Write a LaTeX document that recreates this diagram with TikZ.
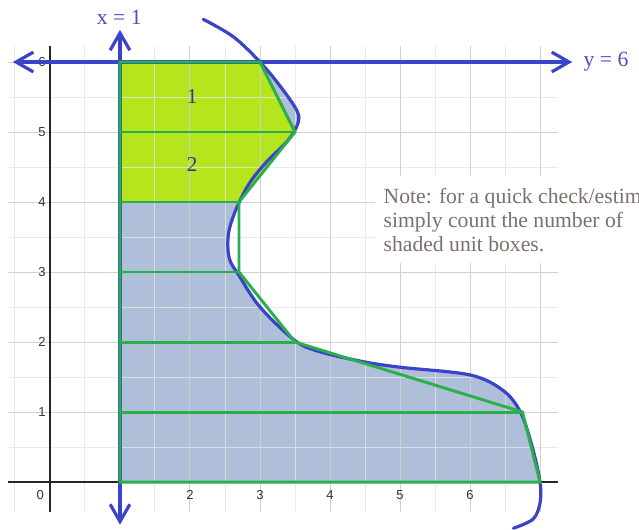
\documentclass[tikz,border=0pt]{standalone}
\usepackage{fontspec}
\setmainfont{Liberation Serif}
\newfontfamily\tickfont{Liberation Sans}
\usepackage{tikz}
\usetikzlibrary{arrows.meta}
\definecolor{cblue}{HTML}{3B44C8}
\definecolor{clabel}{HTML}{4B4FC6}
\definecolor{cgreen}{HTML}{2AB04A}
\definecolor{clime}{HTML}{B5E61D}
\definecolor{cshade}{HTML}{AFBFDA}
\definecolor{cnote}{HTML}{7A716B}

\begin{document}
\begin{tikzpicture}[
    minorgrid/.style={draw=black!10, opacity=0.8, line width=0.4pt},
    majorgrid/.style={draw=black!20, opacity=0.8, line width=0.4pt},
    bline/.style={cblue, line width=1.3pt, line cap=round},
    barbs/.style={{Straight Barb[length=7pt,width=8pt]}-{Straight Barb[length=7pt,width=8pt]}},
    gline/.style={cgreen, line width=1.2pt},
    ticklbl/.style={font=\tickfont\fontsize{5.3}{6}\selectfont, text=black!80, inner sep=1pt},
    eqlbl/.style={font=\fontsize{8.8}{10}\selectfont, text=clabel},
    boxlbl/.style={font=\fontsize{8.6}{10}\selectfont, text=cblue!80!black},
    note/.style={font=\fontsize{8.8}{9.8}\selectfont, text=cnote, align=left, inner sep=0pt}
]
    \useasboundingbox (-0.714,-0.671) rectangle (8.414,6.886);

    % shaded area between x = 1 and the curve
    \begin{scope}
        \clip (1,0) rectangle (8,6);
        \fill[cshade] plot[smooth, tension=0.55] coordinates {
            (2.19,6.61) (2.62,6.36) (3.0,6.0) (3.3,5.64) (3.53,5.3) (3.54,5.12)
            (3.4,4.88) (3.1,4.58) (2.85,4.27) (2.66,3.9) (2.55,3.55) (2.56,3.2)
            (2.7,2.95) (3.0,2.5) (3.5,2.02) (3.86,1.86) (4.47,1.72) (5.0,1.64)
            (6.0,1.53) (6.47,1.31) (6.72,1.0) (6.89,0.5) (7.0,0.0) (7.0,-0.3)
            (6.9,-0.53) (6.62,-0.66)}
            -- (1,-0.7) -- (1,6.7) -- cycle;
    \end{scope}
    \fill[clime] (1,4) -- (2.7,4) -- (3.5,5) -- (3,6) -- (1,6) -- cycle;

    % grid and axes
    \draw[minorgrid, step=0.5] (-0.6,-0.43) grid (7.25,6.23);
    \draw[majorgrid, step=1] (-0.6,-0.43) grid (7.25,6.23);
    \draw[black!85, line width=0.45pt] (-0.6,0) -- (7.25,0);
    \draw[black!85, line width=0.45pt] (0,-0.43) -- (0,6.23);

    \foreach \v in {1,...,6}
        \node[ticklbl, anchor=east] (ty\v) at (-0.02,\v) {\v};
    \foreach \u in {2,...,6}
        \node[ticklbl] (tx\u) at (\u,-0.19) {\u};
    \node[ticklbl] (t0) at (-0.14,-0.19) {0};

    % note
    \fill[white] (4.64,3.13) rectangle (8.5,4.37);
    \node[note, anchor=base west] (note) at (4.76,3.29)
        {Note: for a quick check/estim\\simply count the number of\\shaded unit boxes.};

    % curve
    \draw[bline] plot[smooth, tension=0.55] coordinates {
        (2.19,6.61) (2.62,6.36) (3.0,6.0) (3.3,5.64) (3.53,5.3) (3.54,5.12)
        (3.4,4.88) (3.1,4.58) (2.85,4.27) (2.66,3.9) (2.55,3.55) (2.56,3.2)
        (2.7,2.95) (3.0,2.5) (3.5,2.02) (3.86,1.86) (4.47,1.72) (5.0,1.64)
        (6.0,1.53) (6.47,1.31) (6.72,1.0) (6.89,0.5) (7.0,0.0) (7.0,-0.3)
        (6.9,-0.53) (6.62,-0.66)};

    % x = 1 and y = 6
    \coordinate (xtop) at (1,6.46);
    \coordinate (xbot) at (1,-0.61);
    \coordinate (yleft) at (-0.53,6);
    \coordinate (yright) at (7.46,6);
    \draw[bline, barbs] (xbot) -- (xtop);
    \draw[bline, barbs] (yleft) -- (yright);
    \node[eqlbl] (xeq) at (0.99,6.64) {x = 1};
    \node[eqlbl, anchor=west] (yeq) at (7.5,6.01) {y = 6};

    % slices
    \foreach \k/\x in {0/7,1/6.75,2/3.5,3/2.7,4/2.7,5/3.5,6/3} {
        \coordinate (l\k) at (1,\k);
        \coordinate (r\k) at (\x,\k);
    }
    \draw[gline] (l0) -- (r0) -- (r1) -- (r2) -- (r3) -- (r4) -- (r5) -- (r6) -- (l6) -- cycle;
    \foreach \k in {1,...,5}
        \draw[gline] (l\k) -- (r\k);

    \node[boxlbl] (b1) at (2.03,5.5) {1};
    \node[boxlbl] (b2) at (2.03,4.53) {2};
\end{tikzpicture}
\end{document}
